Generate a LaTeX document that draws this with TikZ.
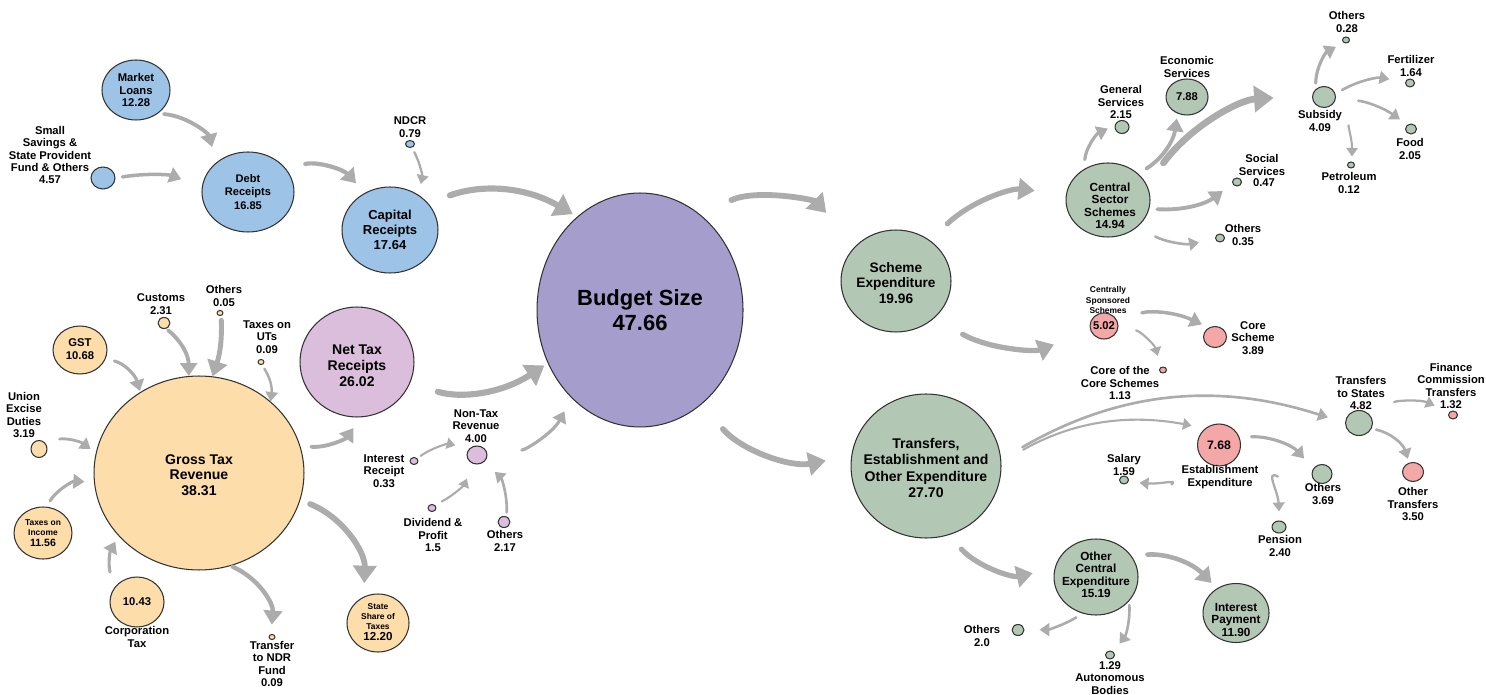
\documentclass[tikz,border=0pt]{standalone}
\usepackage{fontspec}
\setmainfont{Liberation Sans}
\usetikzlibrary{arrows.meta,shapes.geometric}
\definecolor{rcptblue}{RGB}{157,195,230}
\definecolor{taxbeige}{RGB}{253,221,170}
\definecolor{netpink}{RGB}{218,190,220}
\definecolor{budgetviolet}{RGB}{165,158,205}
\definecolor{expgreen}{RGB}{179,199,181}
\definecolor{transred}{RGB}{244,167,167}
\definecolor{flowgray}{RGB}{172,172,172}
\tikzset{
  bub/.style 2 args={ellipse,draw=black!80,line width=0.6pt,inner sep=0pt,minimum width=#1,minimum height=#2},
  lbl/.style={align=center,inner sep=0pt,font=\fontsize{6.4}{7}\selectfont\bfseries},
  sml/.style={lbl,font=\fontsize{4.8}{5.8}\selectfont\bfseries},
  mdm/.style={lbl,font=\fontsize{6.7}{7.1}\selectfont\bfseries},
  lrg/.style={lbl,font=\fontsize{8}{9}\selectfont\bfseries},
  fl/.style={draw=flowgray,line width=#1,->}
}
\begin{document}
\begin{tikzpicture}[x=0.02cm,y=-0.02cm,line join=round,line cap=round,>={Triangle[length=2pt 2.4,width=2.5pt 3.2]}]
\useasboundingbox (0,0) rectangle (1486,695);
%% receipts side
\node[bub={1.36cm}{1.2cm},fill=rcptblue] (mloans) at (136,90) {};
\node[bub={.48cm}{.44cm},fill=rcptblue] (ssav) at (103,178) {};
\node[bub={1.84cm}{1.6cm},fill=rcptblue] (debt) at (248,192) {};
\node[bub={.18cm}{.14cm},fill=rcptblue] (ndcr) at (410,144) {};
\node[bub={1.92cm}{1.72cm},fill=rcptblue] (capital) at (390,230) {};
\node[bub={2.28cm}{2.2cm},fill=netpink] (nettax) at (357,362) {};
\node[bub={.4cm}{.36cm},fill=netpink] (nontax) at (477,455) {};
\node[bub={.16cm}{.14cm},fill=netpink] (intrec) at (414,461) {};
\node[bub={.16cm}{.14cm},fill=netpink] (divid) at (432,508) {};
\node[bub={.24cm}{.22cm},fill=netpink] (nothers) at (504,522) {};
\node[bub={4.12cm}{4.68cm},fill=budgetviolet] (budget) at (640,310) {};
\node[bub={4.2cm}{3.88cm},fill=taxbeige] (gross) at (199,473) {};
\node[bub={1.08cm}{.96cm},fill=taxbeige] (gst) at (80,350) {};
\node[bub={.24cm}{.22cm},fill=taxbeige] (customs) at (164,323) {};
\node[bub={.12cm}{.1cm},fill=taxbeige] (tothers) at (220,313) {};
\node[bub={.12cm}{.1cm},fill=taxbeige] (tuts) at (261,362) {};
\node[bub={.32cm}{.34cm},fill=taxbeige] (excise) at (39,449) {};
\node[bub={1.16cm}{1.04cm},fill=taxbeige] (income) at (43,533) {};
\node[bub={1.08cm}{1cm},fill=taxbeige] (corp) at (137,602) {};
\node[bub={.12cm}{.1cm},fill=taxbeige] (ndr) at (272,637) {};
\node[bub={1.24cm}{1.16cm},fill=taxbeige] (stshare) at (378,623) {};
%% expenditure side
\node[bub={2.2cm}{2.04cm},fill=expgreen] (scheme) at (896,281) {};
\node[bub={3cm}{2.88cm},fill=expgreen] (transfers) at (926,466) {};
\node[bub={1.68cm}{1.48cm},fill=expgreen] (centralsec) at (1108,200) {};
\node[bub={.28cm}{.26cm},fill=expgreen] (gensrv) at (1122,127) {};
\node[bub={.84cm}{.72cm},fill=expgreen] (ecosrv) at (1187,97) {};
\node[bub={.18cm}{.16cm},fill=expgreen] (socsrv) at (1237,182) {};
\node[bub={.18cm}{.16cm},fill=expgreen] (csothers) at (1220,238) {};
\node[bub={.46cm}{.42cm},fill=expgreen] (subsidy) at (1324,97) {};
\node[bub={.14cm}{.12cm},fill=expgreen] (subothers) at (1346,40) {};
\node[bub={.18cm}{.16cm},fill=expgreen] (fert) at (1410,83) {};
\node[bub={.22cm}{.2cm},fill=expgreen] (food) at (1411,129) {};
\node[bub={.14cm}{.12cm},fill=expgreen] (petrol) at (1351,165) {};
\node[bub={.56cm}{.52cm},fill=transred] (cssp) at (1104,326) {};
\node[bub={.46cm}{.42cm},fill=transred] (core) at (1215,337) {};
\node[bub={.14cm}{.12cm},fill=transred] (corecore) at (1163,370) {};
\node[bub={.54cm}{.5cm},fill=expgreen] (tostates) at (1359,423) {};
\node[bub={.18cm}{.16cm},fill=transred] (fincom) at (1453,415) {};
\node[bub={.42cm}{.38cm},fill=transred] (othtrans) at (1413,472) {};
\node[bub={.86cm}{.84cm},fill=transred] (estab) at (1219,445) {};
\node[bub={.18cm}{.16cm},fill=expgreen] (salary) at (1124,480) {};
\node[bub={.4cm}{.38cm},fill=expgreen] (estothers) at (1322,474) {};
\node[bub={.28cm}{.24cm},fill=expgreen] (pension) at (1279,527) {};
\node[bub={1.68cm}{1.52cm},fill=expgreen] (othcent) at (1096,577) {};
\node[bub={1.32cm}{1.18cm},fill=expgreen] (intpay) at (1236,613) {};
\node[bub={.24cm}{.22cm},fill=expgreen] (ocothers) at (1018,630) {};
\node[bub={.18cm}{.16cm},fill=expgreen] (autonomous) at (1110,655) {};
%% texts
\node[lbl] (mloans-t) at (136,90) {Market\\Loans\\12.28};
\node[lbl] (ssav-t) at (50,155) {Small\\Savings \&\\State Provident\\Fund \& Others\\4.57};
\node[lbl,font=\fontsize{6.3}{7.6}\selectfont\bfseries] (debt-t) at (248,192) {Debt\\Receipts\\16.85};
\node[lbl] (ndcr-t) at (410,127) {NDCR\\0.79};
\node[lbl,font=\fontsize{7.4}{8.5}\selectfont\bfseries] (capital-t) at (390,230) {Capital\\Receipts\\17.64};
\node[lrg] (nettax-t) at (357,366) {Net Tax\\Receipts\\26.02};
\node[lbl] (nontax-t) at (476,426) {Non-Tax\\Revenue\\4.00};
\node[lbl] (intrec-t) at (384,471) {Interest\\Receipt\\0.33};
\node[lbl] (divid-t) at (433,535) {Dividend \&\\Profit\\1.5};
\node[lbl] (nothers-t) at (505,541) {Others\\2.17};
\node[lbl,font=\fontsize{12.5}{14.3}\selectfont\bfseries] (budget-t) at (640,310) {Budget Size\\47.66};
\node[lrg] (gross-t) at (199,475) {Gross Tax\\Revenue\\38.31};
\node[lbl] (gst-t) at (80,349) {GST\\10.68};
\node[lbl] (customs-t) at (161,304) {Customs\\2.31};
\node[lbl] (tothers-t) at (224,296) {Others\\0.05};
\node[lbl] (tuts-t) at (267,337) {Taxes on\\UTs\\0.09};
\node[lbl] (excise-t) at (24,415) {Union\\Excise\\Duties\\3.19};
\node[sml] (income-t) at (43,533) {Taxes on\\Income\\{\fontsize{6}{7}\selectfont 11.56}};
\node[lbl] (corp-t) at (137,602) {10.43};
\node[lbl] (corp-l) at (137,637) {Corporation\\Tax};
\node[lbl] (ndr-t) at (272,664) {Transfer\\to NDR\\Fund\\0.09};
\node[sml] (stshare-t) at (378,622) {State\\Share of\\Taxes\\{\fontsize{6.6}{7.4}\selectfont 12.20}};
\node[lbl,font=\fontsize{7.8}{8.8}\selectfont\bfseries] (scheme-t) at (896,283) {Scheme\\Expenditure\\19.96};
\node[lbl,font=\fontsize{8}{9.3}\selectfont\bfseries] (transfers-t) at (926,468) {Transfers,\\Establishment and\\Other Expenditure\\27.70};
\node[mdm] (centralsec-t) at (1110,206) {Central\\Sector\\Schemes\\14.94};
\node[lbl] (gensrv-t) at (1121,102) {General\\Services\\2.15};
\node[lbl] (ecosrv-l) at (1187,67) {Economic\\Services};
\node[lbl] (ecosrv-t) at (1187,97) {7.88};
\node[lbl] (socsrv-t) at (1262,165) {Social\\Services};
\node[lbl] (socsrv-v) at (1264,183) {0.47};
\node[lbl] (csothers-t) at (1243,235) {Others\\0.35};
\node[lbl] (subsidy-t) at (1320,121) {Subsidy\\4.09};
\node[lbl] (subothers-t) at (1347,22) {Others\\0.28};
\node[lbl] (fert-t) at (1411,66) {Fertilizer\\1.64};
\node[lbl] (food-t) at (1410,149) {Food\\2.05};
\node[lbl] (petrol-t) at (1349,183) {Petroleum\\0.12};
\node[sml] (cssp-t) at (1108,300) {Centrally\\Sponsored\\Schemes};
\node[lbl] (cssp-v) at (1104,326) {5.02};
\node[lbl] (core-t) at (1253,338) {Core\\Scheme\\3.89};
\node[lbl] (corecore-t) at (1120,383) {Core of the\\Core Schemes\\1.13};
\node[lbl] (tostates-t) at (1361,393) {Transfers\\to States\\4.82};
\node[lbl] (fincom-t) at (1451,386) {Finance\\Commission\\Transfers\\1.32};
\node[lbl] (othtrans-t) at (1413,504) {Other\\Transfers\\3.50};
\node[lbl,font=\fontsize{7}{8}\selectfont\bfseries] (estab-v) at (1219,445) {7.68};
\node[lbl] (estab-t) at (1220,477) {Establishment\\Expenditure};
\node[lbl] (salary-t) at (1124,465) {Salary\\1.59};
\node[lbl] (estothers-t) at (1323,494) {Others\\3.69};
\node[lbl] (pension-t) at (1280,546) {Pension\\2.40};
\node[mdm] (othcent-t) at (1096,575) {Other\\Central\\Expenditure\\15.19};
\node[mdm] (intpay-t) at (1236,620) {Interest\\Payment\\11.90};
\node[lbl] (ocothers-t) at (982,636) {Others\\2.0};
\node[lbl] (autonomous-t) at (1110,678) {1.29\\Autonomous\\Bodies};
%% flows
\draw[fl=2.2pt,shorten <=.12cm,shorten >=.32cm] (mloans.-47) to[bend left=35] (debt.137);
\draw[fl=2pt,shorten <=.14cm,shorten >=.44cm] (ssav.0) to[bend left=15] (debt.174);
\draw[fl=2.4pt,shorten <=.4cm,shorten >=.26cm] (debt.32) to[bend left=30] (capital.124);
\draw[fl=1.3pt,shorten <=.1cm,shorten >=.22cm] (ndcr.-63) to[bend left=20] (capital.51);
\draw[fl=3.5pt,shorten <=.46cm,shorten >=.1cm] (capital.35) to[bend left=25] (budget.124);
\draw[fl=3.5pt,shorten <=.58cm,shorten >=.08cm] (nettax.-22) to[bend right=25] (budget.210);
\draw[fl=1.8pt,shorten <=.7cm,shorten >=.3cm] (nontax.19) to[bend right=30] (budget.232);
\draw[fl=2.2pt,shorten <=.22cm,shorten >=.26cm] (gross.15) to[bend right=30] (nettax.-86);
\draw[fl=1.2pt,shorten <=.08cm,shorten >=.28cm] (intrec.40) to[bend left=25] (nontax.144);
\draw[fl=1.2pt,shorten <=.15cm,shorten >=.32cm] (divid.45) to[bend right=20] (nontax.246);
\draw[fl=1.5pt,shorten <=.08cm,shorten >=.29cm] (nothers.66) to[bend right=25] (nontax.-45);
\draw[fl=1.8pt,shorten <=.18cm,shorten >=.02cm] (gst.-19) to[bend left=30] (gross.126);
\draw[fl=2.2pt,shorten <=.05cm] (customs.-69) to[bend left=25] (gross.96);
\draw[fl=2.8pt,shorten <=.09cm] (tothers.-67) to[bend left=10] (gross.82);
\draw[fl=1.4pt,shorten <=.09cm] (tuts.-74) to[bend left=20] (gross.45);
\draw[fl=1.6pt,shorten <=.3cm,shorten >=.13cm] (excise.47) to[bend left=25] (gross.169);
\draw[fl=1.8pt,shorten <=.14cm,shorten >=.19cm] (income.83) to[bend left=30] (gross.185);
\draw[fl=1.8pt,shorten <=.3cm,shorten >=.13cm] (corp.143) to[bend left=25] (gross.218);
\draw[fl=2.5pt,shorten <=.04cm,shorten >=.19cm] (gross.-71) to[bend left=35] (ndr.108);
\draw[fl=3.3pt,shorten <=.21cm,shorten >=.27cm] (gross.-15) to[bend left=35] (stshare.118);
\draw[fl=3.3pt,shorten <=.69cm,shorten >=.88cm] (budget.58) to[bend left=35] (scheme.137);
\draw[fl=3.3pt,shorten <=.65cm,shorten >=.52cm] (budget.-57) to[bend right=30] (transfers.172);
\draw[fl=3pt,shorten <=.48cm,shorten >=.63cm] (scheme.50) to[bend left=25] (centralsec.172);
\draw[fl=3pt,shorten <=.65cm,shorten >=.78cm] (scheme.-44) to[bend right=25] (cssp.201);
\draw[fl=1.8pt,shorten <=.19cm,shorten >=.15cm] (centralsec.128) to[bend left=30] (gensrv.168);
\draw[fl=2.2pt,shorten <=.19cm,shorten >=.1cm] (centralsec.41) to[bend right=25] (ecosrv.240);
\draw[fl=3.8pt,shorten <=.55cm,shorten >=.77cm] (centralsec.21) to[bend left=25] (subsidy.173);
\draw[fl=2.2pt,shorten <=.16cm,shorten >=.24cm] (centralsec.-12) to[bend right=20] (socsrv.202);
\draw[fl=1.5pt,shorten <=.4cm,shorten >=.33cm] (centralsec.-42) to[bend right=20] (csothers.194);
\draw[fl=1.8pt,shorten <=.12cm,shorten >=.17cm] (subsidy.137) to[bend left=30] (subothers.225);
\draw[fl=1.5pt,shorten <=.15cm,shorten >=.32cm] (subsidy.16) to[bend left=20] (fert.171);
\draw[fl=1.5pt,shorten <=.45cm,shorten >=.18cm] (subsidy.-9) to[bend left=15] (food.129);
\draw[fl=1.2pt,shorten <=.53cm,shorten >=.1cm] (subsidy.-45) to[bend left=20] (petrol.76);
\draw[fl=2pt,shorten <=.52cm,shorten >=.15cm] (cssp.27) to[bend left=20] (core.124);
\draw[fl=1.2pt,shorten <=.36cm,shorten >=.23cm] (cssp.0) to[bend left=30] (corecore.124);
\draw[fl=1.5pt,shorten <=.49cm,shorten >=.36cm] (transfers.5) to[bend left=24] (tostates.180);
\draw[fl=1.2pt,shorten <=.5cm,shorten >=.28cm] (transfers.3) to[bend left=20] (estab.129);
\draw[fl=1.3pt,shorten <=.55cm,shorten >=.32cm] (tostates.39) to[bend left=25] (fincom.139);
\draw[fl=1.5pt,shorten <=.09cm,shorten >=.08cm] (tostates.-24) to[bend left=30] (othtrans.113);
\draw[fl=1.8pt,shorten <=.24cm,shorten >=.27cm] (estab.21) to[bend left=25] (estothers.149);
\draw[fl=1.3pt,shorten <=.81cm,shorten >=.22cm] (estab.228) to[bend left=20] (salary.-23);
\draw[fl=1.3pt,shorten <=.9cm,shorten >=.18cm] (estab.-30) to[bend left=30] (pension.86);
\draw[fl=3pt,shorten <=.38cm,shorten >=.45cm] (transfers.-72) to[bend right=30] (othcent.168);
\draw[fl=2.6pt,shorten <=.32cm,shorten >=.15cm] (othcent.31) to[bend left=25] (intpay.128);
\draw[fl=1.5pt,shorten <=.15cm,shorten >=.3cm] (othcent.250) to[bend left=15] (ocothers.0);
\draw[fl=1.5pt,shorten <=.08cm,shorten >=.2cm] (othcent.-36) to[bend left=20] (autonomous.45);
\end{tikzpicture}
\end{document}
